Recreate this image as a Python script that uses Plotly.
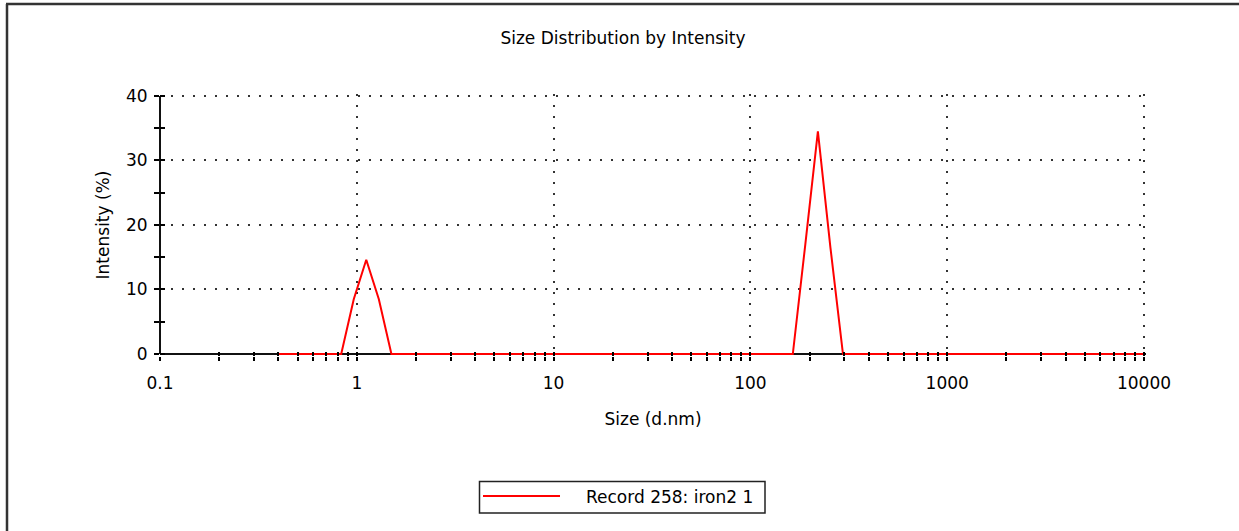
import plotly.graph_objects as go

# Zetasizer size bins (d.nm)
sizes = [0.4, 0.4632, 0.5365, 0.6213, 0.7195, 0.8332, 0.9649, 1.117, 1.294, 1.499,
         1.736, 2.01, 2.328, 2.696, 3.122, 3.615, 4.187, 4.849, 5.615, 6.503,
         7.531, 8.721, 10.1, 11.7, 13.54, 15.69, 18.17, 21.04, 24.36, 28.21,
         32.67, 37.84, 43.82, 50.75, 58.77, 68.06, 78.82, 91.28, 105.7, 122.4,
         141.8, 164.2, 190.1, 220.2, 255.0, 295.3, 342.0, 396.1, 458.7, 531.2,
         615.1, 712.4, 825.0, 955.4, 1106, 1281, 1484, 1718, 1990, 2305,
         2669, 3091, 3580, 4145, 4801, 5560, 6439, 7456, 8635, 10000]

intensity = [0, 0, 0, 0, 0, 0, 8.5, 14.6, 8.5, 0,
             0, 0, 0, 0, 0, 0, 0, 0, 0, 0,
             0, 0, 0, 0, 0, 0, 0, 0, 0, 0,
             0, 0, 0, 0, 0, 0, 0, 0, 0, 0,
             0, 0, 17.0, 34.5, 16.5, 0, 0, 0, 0, 0,
             0, 0, 0, 0, 0, 0, 0, 0, 0, 0,
             0, 0, 0, 0, 0, 0, 0, 0, 0, 0]

series_name = "Record 258: iron2 1"
chart_title = "Size Distribution by Intensity"
x_title = "Size (d.nm)"
y_title = "Intensity (%)"

x_tickvals = [0.1, 1, 10, 100, 1000, 10000]
x_ticktext = ["0.1", "1", "10", "100", "1000", "10000"]
x_minor = [m * d for d in [0.1, 1, 10, 100, 1000] for m in range(2, 10)]
y_tickvals = [0, 10, 20, 30, 40]
y_minor = [5, 15, 25, 35]
x_range = [-1, 4.01]
y_range = [-0.31, 40.3]

FONT = "DejaVu Sans"
W, H = 1239, 531
L, R, T, B = 160, 93, 94, 175
pw, ph = W - L - R, H - T - B


def px_x(p):
    return (p - L) / pw


def px_y(p):
    return (H - B - p) / ph


fig = go.Figure()
fig.add_trace(go.Scatter(x=sizes, y=intensity, mode="lines", name=series_name,
                         line=dict(color="#ff0000", width=2), showlegend=False))
# helper (empty) traces so the overlay axes (inward tick halves) get drawn
fig.add_trace(go.Scatter(x=[], y=[], xaxis="x2", yaxis="y", showlegend=False, hoverinfo="skip"))
fig.add_trace(go.Scatter(x=[], y=[], xaxis="x", yaxis="y2", showlegend=False, hoverinfo="skip"))

tickfont = dict(family=FONT, size=17, color="#000")
GRID = dict(showgrid=True, gridcolor="#333", gridwidth=1.8, griddash="1.8px,9.2px")

fig.update_layout(
    width=W, height=H,
    margin=dict(l=L, r=R, t=T, b=B, autoexpand=False),
    paper_bgcolor="white", plot_bgcolor="white",
    font=dict(family=FONT, size=17, color="#000"),
    title=dict(text=chart_title, x=623 / W, xref="container", xanchor="center",
               y=1 - 38 / H, yref="container", yanchor="middle",
               font=dict(family=FONT, size=17, color="#000")),
    xaxis=dict(type="log", range=x_range, tickmode="array", tickvals=x_tickvals,
               ticktext=x_ticktext, ticks="outside", ticklen=4, tickwidth=1.5,
               tickcolor="#000", showline=False, zeroline=False,
               layer="below traces", tickfont=tickfont, ticklabelstandoff=8,
               minor=dict(tickmode="array", tickvals=x_minor, ticks="outside",
                          ticklen=4, tickwidth=1.5, tickcolor="#000", showgrid=False),
               title=dict(text=x_title, font=dict(family=FONT, size=17), standoff=20),
               **GRID),
    xaxis2=dict(type="log", range=x_range, overlaying="x", anchor="y", side="bottom",
                tickmode="array", tickvals=x_tickvals, ticks="inside", ticklen=4,
                tickwidth=1.5, tickcolor="#000", showticklabels=False, showline=False,
                showgrid=False, zeroline=False,
                minor=dict(tickmode="array", tickvals=x_minor, ticks="inside",
                           ticklen=4, tickwidth=1.5, tickcolor="#000", showgrid=False)),
    yaxis=dict(range=y_range, tickmode="array", tickvals=y_tickvals, ticks="outside",
               ticklen=5, tickwidth=1.5, tickcolor="#000", showline=False,
               zeroline=True, zerolinecolor="#111",
               zerolinewidth=2, layer="below traces",
               tickfont=tickfont, ticklabelstandoff=3,
               minor=dict(tickmode="array", tickvals=y_minor, ticks="outside",
                          ticklen=5, tickwidth=1.5, tickcolor="#000", showgrid=False),
               title=dict(text=y_title, font=dict(family=FONT, size=17), standoff=12),
               **GRID),
    yaxis2=dict(range=y_range, overlaying="y", anchor="x", side="left",
                tickmode="array", tickvals=y_tickvals, ticks="inside", ticklen=5,
                tickwidth=1.5, tickcolor="#000", showticklabels=False, showline=False,
                showgrid=False, zeroline=False,
                minor=dict(tickmode="array", tickvals=y_minor, ticks="inside",
                           ticklen=5, tickwidth=1.5, tickcolor="#000", showgrid=False)),
    showlegend=False,
)

shapes = [
    # y-axis line from 0 to 40
    dict(type="line", xref="paper", yref="y", x0=0, x1=0, y0=0, y1=40,
         line=dict(color="#111", width=2), layer="below"),
    # outer frame (left and top edges)
    dict(type="line", xref="paper", yref="paper", x0=px_x(7), x1=px_x(7),
         y0=px_y(4), y1=px_y(H + 5), line=dict(color="#333", width=2.5)),
    dict(type="line", xref="paper", yref="paper", x0=px_x(6), x1=px_x(W + 5),
         y0=px_y(4), y1=px_y(4), line=dict(color="#333", width=2.5)),
    # legend box
    dict(type="rect", xref="paper", yref="paper", x0=px_x(479.5), x1=px_x(765),
         y0=px_y(481.5), y1=px_y(513), line=dict(color="#222", width=1.5),
         fillcolor="white"),
    dict(type="line", xref="paper", yref="paper", x0=px_x(483), x1=px_x(560),
         y0=px_y(496), y1=px_y(496), line=dict(color="#ff0000", width=2)),
]
fig.update_layout(shapes=shapes)
fig.add_annotation(text=series_name, xref="paper", yref="paper", x=px_x(584),
                   y=px_y(497), xanchor="left", yanchor="middle", showarrow=False,
                   font=dict(family=FONT, size=17, color="#000"))

fig.write_html("out.html", config={"displayModeBar": False},
               post_script="document.body.style.margin='0';")
